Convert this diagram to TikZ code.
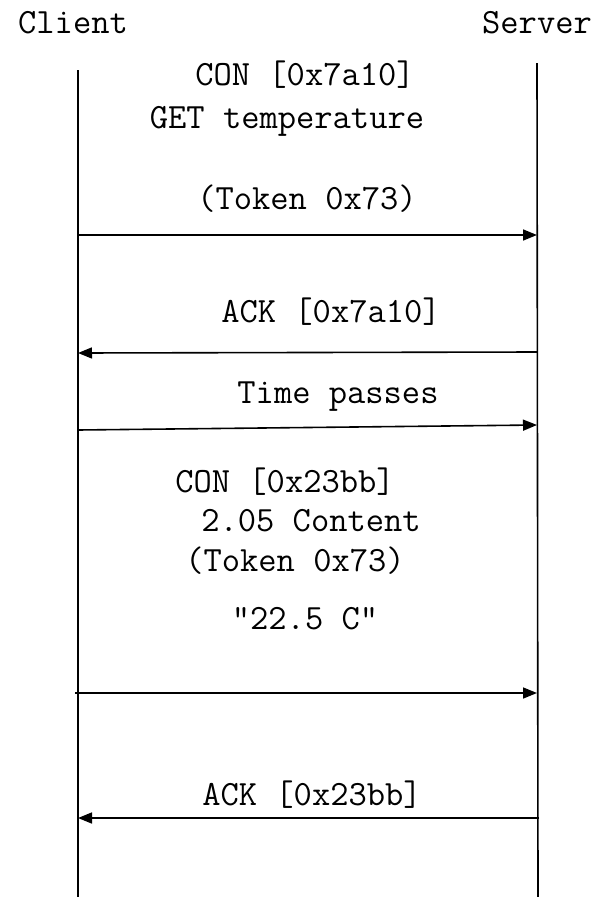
\documentclass[tikz,border=0pt]{standalone}
\usepackage{fontspec}
\usetikzlibrary{arrows.meta}
\tikzset{
  lbl/.style={anchor=base, inner sep=0pt, font=\ttfamily\fontsize{35.5}{36}\selectfont},
  life/.style={line width=1.6pt},
  msg/.style={line width=1.6pt, -{Triangle[length=14pt,width=11pt]}}
}
\begin{document}
\begin{tikzpicture}[x=1pt,y=-1pt]
\useasboundingbox (0,0) rectangle (597,897);
\node[lbl] (client) at (73,33) {Client};
\node[lbl] (server) at (537,33) {Server};
\coordinate (c0) at (78,70);
\coordinate (c1) at (78,897);
\coordinate (s0) at (537,63);
\coordinate (s1) at (538,897);
\draw[life] (c0) -- (c1);
\draw[life] (s0) -- (s1);
\node[lbl] (t1) at (305,85) {CON [0x7a10]};
\node[lbl] (t2) at (287,128) {GET temperature};
\node[lbl] (t3) at (307,209) {(Token 0x73)};
\node[lbl] (t4) at (331,322) {ACK [0x7a10]};
\node[lbl] (t5) at (338,403) {Time passes};
\node[lbl] (t6) at (285,492) {CON [0x23bb]};
\node[lbl] (t7) at (311,531) {2.05 Content};
\node[lbl] (t8) at (295,571) {(Token 0x73)};
\node[lbl] (t9) at (305,629) {\char34 22.5 C\char34};
\node[lbl] (t10) at (312,805) {ACK [0x23bb]};
\coordinate (a1s) at (78,235);  \coordinate (a1e) at (537,235);
\coordinate (a2s) at (537,352); \coordinate (a2e) at (78,353);
\coordinate (a3s) at (78,430);  \coordinate (a3e) at (537,425);
\coordinate (a4s) at (75,693);  \coordinate (a4e) at (537,693);
\coordinate (a5s) at (539,818); \coordinate (a5e) at (78,818);
\draw[msg] (a1s) -- (a1e);
\draw[msg] (a2s) -- (a2e);
\draw[msg] (a3s) -- (a3e);
\draw[msg] (a4s) -- (a4e);
\draw[msg] (a5s) -- (a5e);
\end{tikzpicture}
\end{document}
